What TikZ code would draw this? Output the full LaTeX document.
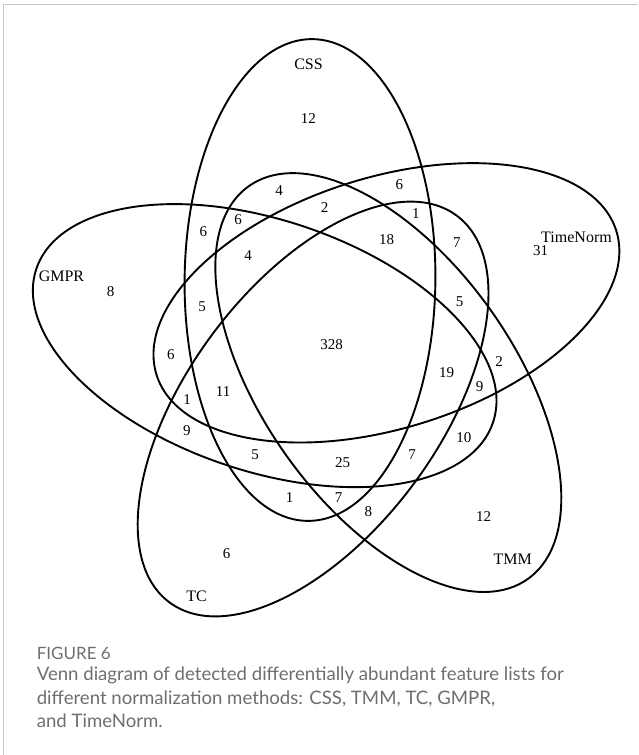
\documentclass[tikz,border=0pt]{standalone}
\usepackage{fontspec}
\setmainfont{Liberation Serif}
\newfontfamily\capfont{Lato}
\definecolor{framegray}{RGB}{200,200,200}
\definecolor{capgray}{RGB}{110,110,110}
\begin{document}
\begin{tikzpicture}[x=1pt,y=-1pt,
  venn/.style={draw=black,line width=1.9pt},
  num/.style={inner sep=0pt,font=\fontsize{15}{18}\selectfont},
  cat/.style={inner sep=0pt,font=\fontsize{16}{19}\selectfont},
  captext/.style={inner sep=0pt,anchor=base west,text=capgray,font=\capfont\fontsize{18.6}{22}\selectfont},
  caphead/.style={inner sep=0pt,anchor=base west,text=capgray,font=\capfont\fontsize{17}{20}\selectfont}]
\useasboundingbox (0,0) rectangle (638,755);
% frame
\draw[framegray,line width=1.3pt] (3.3,755) -- (3.3,4.5) -- (638,4.5);
% ellipses
\coordinate (C) at (332.5,344);
\foreach \k in {0,...,4}
  \draw[venn,rotate around={-72*\k:(C)}] [rotate around={-0.6:(310,280)}] (310,280) ellipse [x radius=125.4pt, y radius=240.9pt];
% category labels
\node[cat] (lcss) at (308.5,64.5) {CSS};
\node[cat] (ltn) at (576.5,237) {TimeNorm};
\node[cat] (lgmpr) at (61.5,276.5) {GMPR};
\node[cat] (ltmm) at (512.8,559.3) {TMM};
\node[cat] (ltc) at (196.5,596) {TC};
% numbers
\node[num] (a1) at (308.3,118.3) {12};
\node[num] (a2) at (540.5,251) {31};
\node[num] (a3) at (110.7,291.7) {8};
\node[num] (a4) at (483.7,516.7) {12};
\node[num] (a5) at (226.6,553.5) {6};
\node[num] (b1) at (279,190.3) {4};
\node[num] (b2) at (399.4,185) {6};
\node[num] (b3) at (324.6,207.6) {2};
\node[num] (b4) at (415.9,213.2) {1};
\node[num] (b5) at (238.2,220) {6};
\node[num] (b6) at (203.4,231.8) {6};
\node[num] (b7) at (386.6,239.2) {18};
\node[num] (b8) at (456.8,242.2) {7};
\node[num] (b9) at (248.2,255.5) {4};
\node[num] (c1) at (202.2,306.7) {5};
\node[num] (c2) at (459.7,301.7) {5};
\node[num] (c3) at (331.7,345) {328};
\node[num] (c4) at (170.8,354.7) {6};
\node[num] (c5) at (499,361.2) {2};
\node[num] (c6) at (446.5,373) {19};
\node[num] (c7) at (479.7,386.4) {9};
\node[num] (c8) at (187.2,399.2) {1};
\node[num] (c9) at (223.2,392) {11};
\node[num] (d1) at (186.8,431) {9};
\node[num] (d2) at (463.9,437.8) {10};
\node[num] (d3) at (255,454.2) {5};
\node[num] (d4) at (342.6,462.7) {25};
\node[num] (d5) at (412.2,454.2) {7};
\node[num] (d6) at (289.5,498) {1};
\node[num] (d7) at (338.7,498) {7};
\node[num] (d8) at (368.3,511.7) {8};
% caption
\node[caphead] (fig) at (36.6,659) {FIGURE 6};
\node[captext] (cap1) at (36.6,680) {Venn diagram of detected differentially abundant feature lists for};
\node[captext] (cap2) at (36.6,704) {different normalization methods: CSS, TMM, TC, GMPR,};
\node[captext] (cap3) at (36.6,727.5) {and TimeNorm.};
\end{tikzpicture}
\end{document}
